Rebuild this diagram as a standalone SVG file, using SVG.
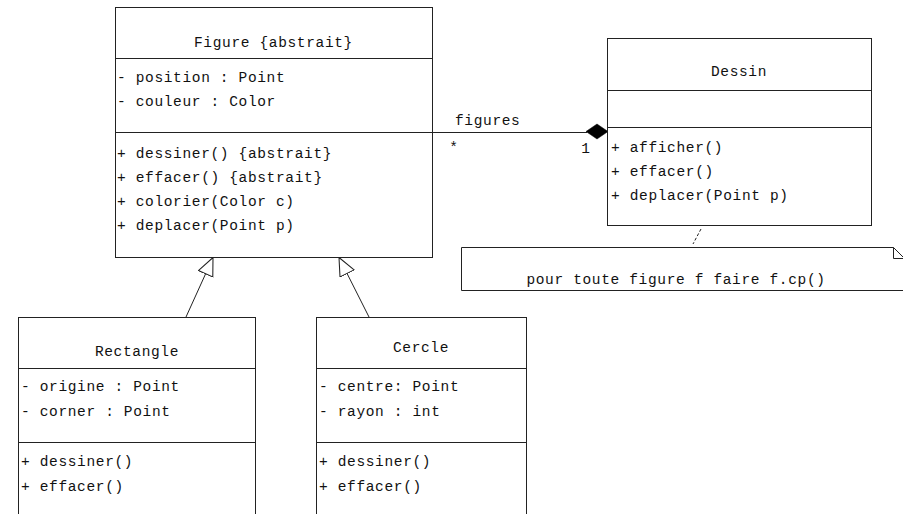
<svg xmlns="http://www.w3.org/2000/svg" width="903" height="514" viewBox="0 0 903 514">
<style>
  .box{fill:#fff;stroke:#222;stroke-width:1}
  .ln{stroke:#222;stroke-width:1;fill:none}
  text{font-family:"Liberation Mono","DejaVu Sans Mono",monospace;font-size:14.5px;letter-spacing:0.65px;fill:#111}
  .c{text-anchor:middle}
</style>
<defs>
  <marker id="gen" markerUnits="userSpaceOnUse" markerWidth="20" markerHeight="18" viewBox="0 0 19 17" refX="17.5" refY="8" orient="auto">
    <path d="M0.5,0.5 L17.5,8 L0.5,15.5 z" fill="#fff" stroke="#222" stroke-width="1"/>
  </marker>
</defs>
<rect width="903" height="514" fill="#fff"/>

<g id="connectors">
  <line class="ln" x1="186" y1="317" x2="213" y2="257.5" marker-end="url(#gen)"/>
  <line class="ln" x1="369" y1="317" x2="339" y2="257.5" marker-end="url(#gen)"/>
  <line class="ln" x1="432" y1="132.5" x2="587" y2="132.5"/>
  <polygon points="586,131.5 597,124 608,131.5 597,139" fill="#000" stroke="#000" stroke-width="0.5"/>
  <text x="455" y="125">figures</text>
  <text class="c" x="454" y="152">*</text>
  <text class="c" x="586" y="153">1</text>
  <line class="ln" x1="701" y1="229" x2="693" y2="244" stroke-dasharray="3,2"/>
</g>

<g id="figure">
  <rect class="box" x="115.5" y="7.5" width="317" height="250"/>
  <line class="ln" x1="115.5" y1="58.5" x2="432.5" y2="58.5"/>
  <line class="ln" x1="115.5" y1="132.5" x2="432.5" y2="132.5"/>
  <text class="c" x="273.5" y="47">Figure {abstrait}</text>
  <text x="117" y="82">- position : Point</text>
  <text x="117" y="106">- couleur : Color</text>
  <text x="117" y="158">+ dessiner() {abstrait}</text>
  <text x="117" y="182">+ effacer() {abstrait}</text>
  <text x="117" y="206">+ colorier(Color c)</text>
  <text x="117" y="230">+ deplacer(Point p)</text>
</g>

<g id="dessin">
  <rect class="box" x="607.5" y="38.5" width="264" height="187"/>
  <line class="ln" x1="607.5" y1="90.5" x2="871.5" y2="90.5"/>
  <line class="ln" x1="607.5" y1="127.5" x2="871.5" y2="127.5"/>
  <text class="c" x="739" y="76">Dessin</text>
  <text x="611" y="152">+ afficher()</text>
  <text x="611" y="176">+ effacer()</text>
  <text x="611" y="200">+ deplacer(Point p)</text>
</g>

<g id="note">
  <polygon class="box" points="461.5,247.5 893.5,247.5 905,259 905,290.5 461.5,290.5"/>
  <polyline class="ln" points="893.5,247.5 893.5,258.5 905,258.5"/>
  <text class="c" x="676" y="284">pour toute figure f faire f.cp()</text>
</g>

<g id="rectangle">
  <rect class="box" x="18.5" y="317.5" width="237" height="220"/>
  <line class="ln" x1="18.5" y1="368.5" x2="255.5" y2="368.5"/>
  <line class="ln" x1="18.5" y1="442.5" x2="255.5" y2="442.5"/>
  <text class="c" x="137" y="356">Rectangle</text>
  <text x="21" y="391">- origine : Point</text>
  <text x="21" y="416">- corner : Point</text>
  <text x="21" y="466">+ dessiner()</text>
  <text x="21" y="491">+ effacer()</text>
</g>

<g id="cercle">
  <rect class="box" x="316.5" y="317.5" width="210" height="220"/>
  <line class="ln" x1="316.5" y1="368.5" x2="526.5" y2="368.5"/>
  <line class="ln" x1="316.5" y1="442.5" x2="526.5" y2="442.5"/>
  <text class="c" x="421" y="352">Cercle</text>
  <text x="319" y="391">- centre: Point</text>
  <text x="319" y="416">- rayon : int</text>
  <text x="319" y="466">+ dessiner()</text>
  <text x="319" y="491">+ effacer()</text>
</g>
</svg>
